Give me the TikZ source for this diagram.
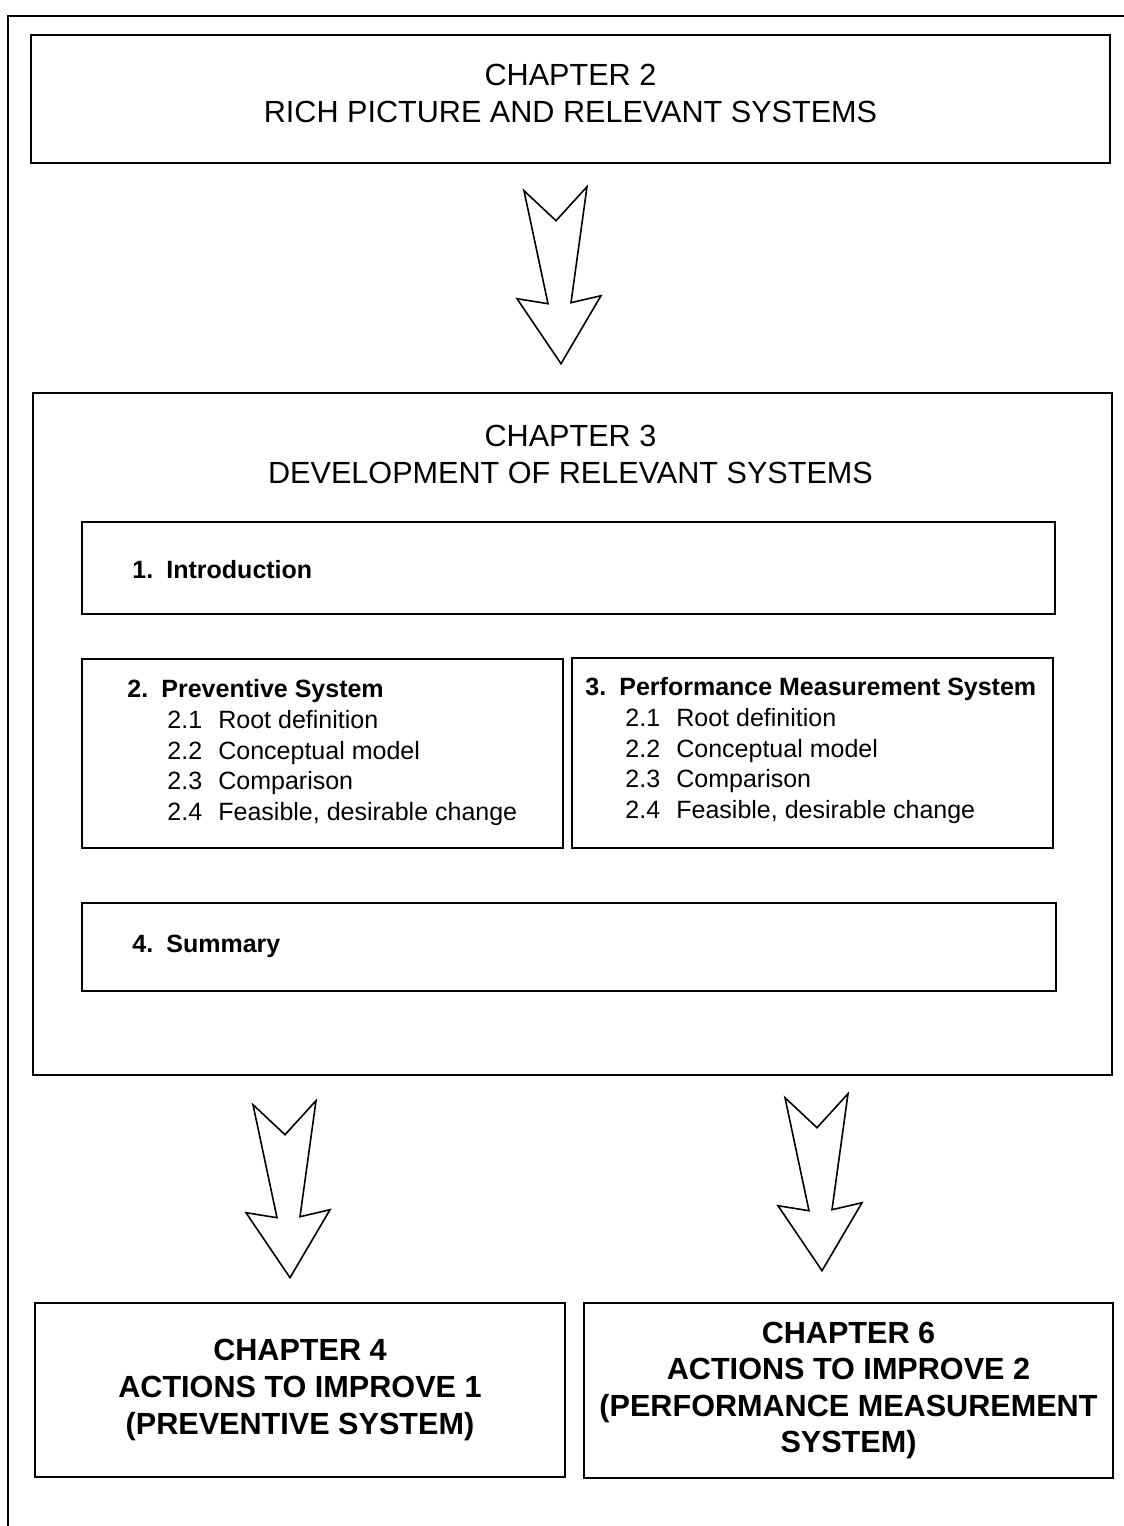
\documentclass[tikz,border=0pt]{standalone}
\usepackage{fontspec}
\setmainfont{Liberation Sans}
\usetikzlibrary{calc,positioning}

% one indented line of a section list: number, then title
\newcommand{\secline}[2]{\hspace*{20pt}\makebox[25.5pt][l]{#1}#2}
% bold numbered heading inside a box
\newcommand{\sechead}[2]{\textbf{\makebox[17pt][l]{#1}#2}}

\begin{document}
\begin{tikzpicture}[x=0.5pt, y=-0.5pt,
    box/.style={draw, line width=1.3pt, inner sep=0pt},
    headfont/.style={font=\fontsize{15.3}{18.5}\selectfont},
    boldhead/.style={font=\bfseries\fontsize{15.3}{18.3}\selectfont},
    itemfont/.style={font=\fontsize{12.5}{15.4}\selectfont},
    listnode/.style={itemfont, align=left, anchor=north west, inner sep=0pt},
    hollow/.style={draw, line width=0.8pt, fill=white, line join=miter},
    downarrow/.pic={
        \draw[hollow] (-37,-173) -- (-5,-143) -- (26,-177) -- (10,-61)
            -- (40,-68) -- (0,0) -- (-44,-65) -- (-13,-60) -- cycle;
    }
]
    \useasboundingbox (0,0) rectangle (1124,1526);

    % --- Page frame (left and top edges only) ---
    \draw[line width=1.3pt] (8,1526) -- (8,16) -- (1124,16);

    % --- Chapter 2 ---
    \node[box, minimum width=539.5pt, minimum height=64pt] (ch2) at (570.5,99) {};
    \node[headfont, align=center] (ch2title) at ($(ch2.center)+(0,-5.5)$)
        {CHAPTER 2\\RICH PICTURE AND RELEVANT SYSTEMS};

    % --- Chapter 3 and its sections ---
    \node[box, minimum width=539.5pt, minimum height=341pt] (ch3) at (572.5,734) {};
    \node[headfont, align=center] (ch3title) at ($(ch3.north)+(-2,63)$)
        {CHAPTER 3\\DEVELOPMENT OF RELEVANT SYSTEMS};

    \node[box, minimum width=486.5pt, minimum height=46pt] (intro) at (568.5,568) {};
    \node[itemfont, anchor=west, inner sep=0pt] (introtext) at (132,570)
        {\sechead{1.}{Introduction}};

    \node[box, minimum width=240.5pt, minimum height=94.5pt] (prev) at (322.5,753.5) {};
    \node[listnode] (prevlist) at (127,679)
        {\sechead{2.}{Preventive System}\\
         \secline{2.1}{Root definition}\\
         \secline{2.2}{Conceptual model}\\
         \secline{2.3}{Comparison}\\
         \secline{2.4}{Feasible, desirable change}};

    \node[box, minimum width=240.5pt, minimum height=95pt] (pms) at (812.5,753) {};
    \node[listnode] (pmslist) at (585,677)
        {\sechead{3.}{Performance Measurement System}\\
         \secline{2.1}{Root definition}\\
         \secline{2.2}{Conceptual model}\\
         \secline{2.3}{Comparison}\\
         \secline{2.4}{Feasible, desirable change}};

    \node[box, minimum width=487pt, minimum height=44pt] (summ) at (569,947) {};
    \node[itemfont, anchor=west, inner sep=0pt] (summtext) at (132,946)
        {\sechead{4.}{Summary}};

    % --- Chapters 4 and 6 ---
    \node[box, boldhead, align=center, minimum width=265pt, minimum height=87pt] (ch4)
        at (300,1390) {CHAPTER 4\\ACTIONS TO IMPROVE 1\\(PREVENTIVE SYSTEM)};
    \node[box, boldhead, align=center, minimum width=264.5pt, minimum height=87.5pt] (ch6)
        at (848.5,1390.5) {CHAPTER 6\\ACTIONS TO IMPROVE 2\\(PERFORMANCE MEASUREMENT\\SYSTEM)};

    % --- Hollow arrows between chapters (tip just above the next box) ---
    \pic (toch3) at ($(ch3.north)+(-11.5,-28)$) {downarrow};
    \pic (toch4) at ($(ch4.north)+(-10,-24)$) {downarrow};
    \pic (toch6) at ($(ch6.north)+(-26.5,-31)$) {downarrow};

\end{tikzpicture}
\end{document}
